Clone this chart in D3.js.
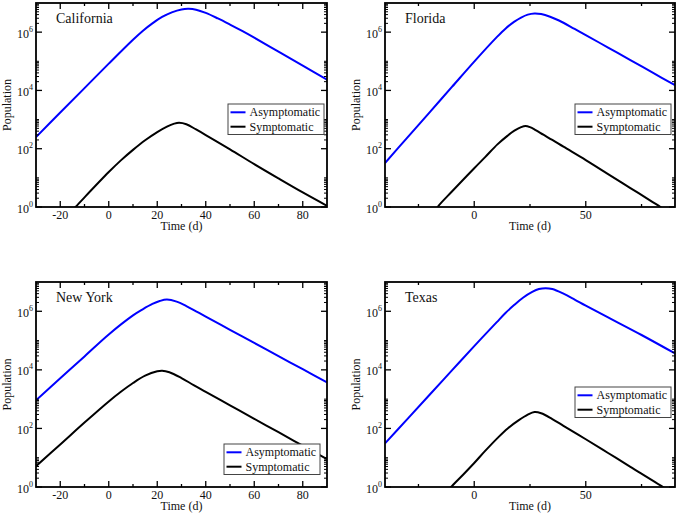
<!DOCTYPE html>
<html>
<head>
<meta charset="utf-8">
<script src="https://cdn.jsdelivr.net/npm/d3@7"></script>
<style>
  html, body { margin: 0; padding: 0; background: #fff; }
  svg { display: block; }
  text { font-family: "Liberation Serif", "Times New Roman", serif; fill: #111; }
</style>
</head>
<body>
<svg id="chart" width="680" height="514"></svg>
<script>
// ---------- data (time in days, population) ----------
const caAsymptomatic = [[-30, 251], [-20, 1738], [-10, 12023], [0, 83176], [10, 5.50e5], [14, 1.10e6], [18, 2.00e6], [22, 3.31e6], [26, 4.79e6], [30, 6.03e6], [33, 6.31e6], [36, 5.89e6], [40, 4.57e6], [45, 2.95e6], [50, 1.82e6], [55, 1.10e6], [60, 6.46e5], [70, 2.14e5], [80, 7.08e4], [90, 2.34e4]];
const caSymptomatic = [[-16, 0.6], [-13.7, 1], [-10, 2.14], [0, 15.8], [5, 39.8], [10, 91.2], [15, 195], [20, 372], [24, 575], [27, 724], [29, 776], [32, 692], [36, 457], [40, 295], [50, 95.5], [60, 29.5], [70, 9.55], [80, 3.16], [90, 1.10]];

const flAsymptomatic = [[-40, 32.4], [-30, 240], [-20, 1778], [-10, 13183], [0, 97724], [10, 6.61e5], [14, 1.32e6], [18, 2.29e6], [21, 3.16e6], [24, 3.98e6], [27, 4.37e6], [30, 4.17e6], [34, 3.39e6], [38, 2.51e6], [45, 1.29e6], [50, 7.94e5], [60, 2.95e5], [70, 1.10e5], [80, 4.07e4], [90, 1.51e4]];
const flSymptomatic = [[-18, 0.6], [-16.4, 1], [-10, 3.39], [0, 21.4], [5, 52.5], [10.4, 141], [15, 282], [18, 417], [21, 550], [23, 603], [25, 550], [27.5, 437], [31, 302], [35, 200], [40, 117], [50, 40.7], [60, 13.5], [70, 4.47], [80, 1.48], [83.5, 1], [86, 0.7]];

const nyAsymptomatic = [[-30, 912], [-20, 5129], [-10, 28840], [0, 1.62e5], [10, 7.24e5], [14, 1.17e6], [18, 1.78e6], [21, 2.24e6], [24, 2.51e6], [28, 2.14e6], [32, 1.51e6], [36, 1.00e6], [40, 6.61e5], [50, 2.34e5], [60, 8.32e4], [70, 2.95e4], [80, 1.05e4], [90, 3715]];
const nySymptomatic = [[-30, 5.13], [-20, 28.2], [-10, 158], [0, 832], [5, 1778], [10, 3548], [15, 6310], [20, 8913], [22, 9333], [25, 8318], [30, 5248], [35, 3020], [40, 1778], [50, 617], [60, 214], [70, 74.1], [80, 25.7], [90, 8.91]];

const txAsymptomatic = [[-40, 30.9], [-30, 209], [-20, 1413], [-10, 9550], [0, 64565], [10, 4.17e5], [14, 8.71e5], [18, 1.66e6], [22, 2.95e6], [26, 4.57e6], [29, 5.75e6], [32, 6.17e6], [35, 5.75e6], [40, 3.98e6], [45, 2.51e6], [50, 1.55e6], [60, 6.17e5], [75, 1.55e5], [90, 3.63e4]];
const txSymptomatic = [[-12, 0.7], [-10.4, 1], [-5, 2.63], [0, 6.61], [5, 17.4], [10.4, 46.8], [15, 100], [20, 191], [24, 295], [27, 363], [30, 331], [35, 209], [40, 123], [50, 42.7], [60, 14.5], [70, 4.9], [84.6, 1], [87, 0.75]];

const stateNames = ["California", "Florida", "New York", "Texas"];
const seriesNames = ["Asymptomatic", "Symptomatic"];
const seriesColors = ["#0000ff", "#000000"];

const xDomainWide = [-30, 90];
const xTicksWide = [-20, 0, 20, 40, 60, 80];
const xMinorWide = [-10, 10, 30, 50, 70];
const xDomainNarrow = [-40, 90];
const xTicksNarrow = [0, 50];
const xMinorNarrow = [-25, 25, 75];
const yDomain = [1, 1e7];
const yTickExponents = [0, 2, 4, 6];

const xTitle = "Time (d)";
const yTitle = "Population";

// ---------- layout ----------
const panels = [
  { name: stateNames[0], series: [caAsymptomatic, caSymptomatic], xd: xDomainWide, xt: xTicksWide, xm: xMinorWide,
    left: 36, right: 327, top: 3, bottom: 207, legend: [228, 104] },
  { name: stateNames[1], series: [flAsymptomatic, flSymptomatic], xd: xDomainNarrow, xt: xTicksNarrow, xm: xMinorNarrow,
    left: 385, right: 675, top: 3, bottom: 207, legend: [575, 104] },
  { name: stateNames[2], series: [nyAsymptomatic, nySymptomatic], xd: xDomainWide, xt: xTicksWide, xm: xMinorWide,
    left: 36, right: 327, top: 282, bottom: 487, legend: [224, 444] },
  { name: stateNames[3], series: [txAsymptomatic, txSymptomatic], xd: xDomainNarrow, xt: xTicksNarrow, xm: xMinorNarrow,
    left: 385, right: 675, top: 282, bottom: 487, legend: [575, 387] }
];

const svg = d3.select("#chart");

// minor log ticks: 2..9 x 10^even and 10^odd
const yMinor = [];
yTickExponents.forEach(e => {
  for (let k = 2; k <= 10; k++) {
    const v = k * Math.pow(10, e);
    if (v < yDomain[1]) yMinor.push(v);
  }
});

panels.forEach((p, i) => {
  const x = d3.scaleLinear().domain(p.xd).range([p.left, p.right]);
  const y = d3.scaleLog().domain(yDomain).range([p.bottom, p.top]);
  const g = svg.append("g");

  const clipId = "clip" + i;
  svg.append("defs").append("clipPath").attr("id", clipId)
    .append("rect").attr("x", p.left).attr("y", p.top)
    .attr("width", p.right - p.left).attr("height", p.bottom - p.top);

  // curves
  const line = d3.line().x(d => x(d[0])).y(d => y(d[1])).curve(d3.curveCatmullRom.alpha(0.5));
  p.series.forEach((s, j) => {
    g.append("path").datum(s).attr("d", line)
      .attr("fill", "none").attr("stroke", seriesColors[j]).attr("stroke-width", 2)
      .attr("stroke-linejoin", "round")
      .attr("clip-path", `url(#${clipId})`);
  });

  // ticks (inward, mirrored)
  const tk = g.append("g").attr("stroke", "#000").attr("stroke-width", 1.3);
  const majL = 6, minL = 3;
  p.xt.forEach(t => {
    tk.append("line").attr("x1", x(t)).attr("x2", x(t)).attr("y1", p.bottom).attr("y2", p.bottom - majL);
    tk.append("line").attr("x1", x(t)).attr("x2", x(t)).attr("y1", p.top).attr("y2", p.top + majL);
  });
  p.xm.forEach(t => {
    tk.append("line").attr("x1", x(t)).attr("x2", x(t)).attr("y1", p.bottom).attr("y2", p.bottom - minL);
    tk.append("line").attr("x1", x(t)).attr("x2", x(t)).attr("y1", p.top).attr("y2", p.top + minL);
  });
  yTickExponents.forEach(e => {
    const v = Math.pow(10, e);
    tk.append("line").attr("x1", p.left).attr("x2", p.left + majL).attr("y1", y(v)).attr("y2", y(v));
    tk.append("line").attr("x1", p.right).attr("x2", p.right - majL).attr("y1", y(v)).attr("y2", y(v));
  });
  yMinor.forEach(v => {
    tk.append("line").attr("x1", p.left).attr("x2", p.left + minL).attr("y1", y(v)).attr("y2", y(v)).attr("stroke-width", 1);
    tk.append("line").attr("x1", p.right).attr("x2", p.right - minL).attr("y1", y(v)).attr("y2", y(v)).attr("stroke-width", 1);
  });

  // frame
  g.append("rect").attr("x", p.left).attr("y", p.top)
    .attr("width", p.right - p.left).attr("height", p.bottom - p.top)
    .attr("fill", "none").attr("stroke", "#000").attr("stroke-width", 1.8);

  // x tick labels
  p.xt.forEach(t => {
    g.append("text").attr("x", x(t)).attr("y", p.bottom + 12)
      .attr("text-anchor", "middle").attr("font-size", 12)
      .text(String(t));
  });
  // y tick labels
  yTickExponents.forEach(e => {
    const yy = y(Math.pow(10, e));
    const t = g.append("text").attr("x", p.left - 3).attr("y", yy + 5.5)
      .attr("text-anchor", "end").attr("font-size", 12);
    t.append("tspan").text("10");
    t.append("tspan").attr("font-size", 8).attr("dy", -6).text(String(e));
  });

  // axis titles
  g.append("text").attr("x", (p.left + p.right) / 2).attr("y", p.bottom + 23)
    .attr("text-anchor", "middle").attr("font-size", 12).text(xTitle);
  g.append("text")
    .attr("transform", `translate(${p.left - 29},${(p.top + p.bottom) / 2}) rotate(-90)`)
    .attr("dy", "0.35em").attr("text-anchor", "middle").attr("font-size", 12).text(yTitle);

  // panel title
  g.append("text").attr("x", p.left + 20).attr("y", p.top + 20)
    .attr("font-size", 14).text(p.name);

  // legend
  const [lx, ly] = p.legend;
  const lg = g.append("g");
  lg.append("rect").attr("x", lx).attr("y", ly).attr("width", 96).attr("height", 30.5)
    .attr("fill", "#fff").attr("stroke", "#444").attr("stroke-width", 1);
  seriesNames.forEach((n, j) => {
    const cy = ly + 8.3 + j * 14.4;
    lg.append("line").attr("x1", lx + 2.5).attr("x2", lx + 17.5).attr("y1", cy).attr("y2", cy)
      .attr("stroke", seriesColors[j]).attr("stroke-width", 2);
    lg.append("text").attr("x", lx + 21.5).attr("y", cy + 4).attr("font-size", 12).text(n);
  });
});
</script>
</body>
</html>
